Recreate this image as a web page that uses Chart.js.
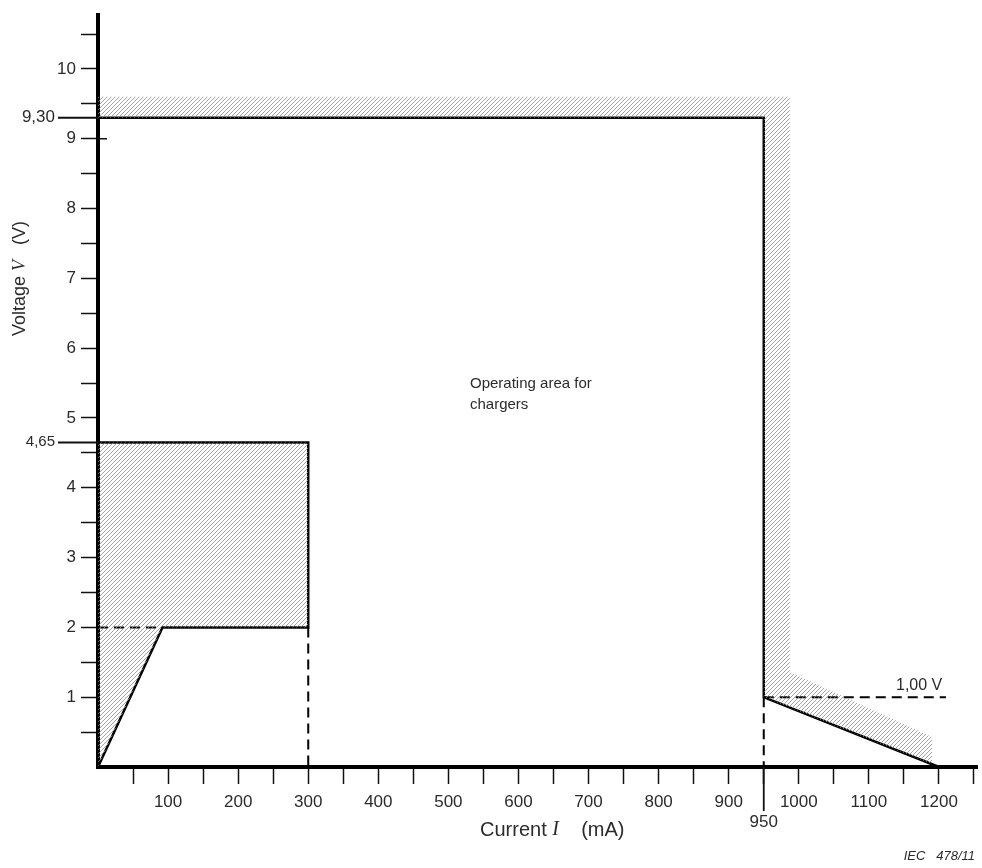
<!DOCTYPE html>
<html>
<head>
<meta charset="utf-8">
<script src="https://cdn.jsdelivr.net/npm/chart.js@4/dist/chart.umd.min.js"></script>
<style>
  html, body { margin: 0; padding: 0; background: #fff; }
  canvas { display: block; }
</style>
</head>
<body>
<canvas id="c" width="982" height="868"></canvas>
<script>
// ---- Data (current in mA, voltage in V) ----
const lowHatchI  = [0, 0, 300, 300, 92, 0];
const lowHatchV  = [0, 4.65, 4.65, 2, 2, 0];
const highHatchI = [0, 0, 987, 987, 1190, 1190, 950, 950, 0];
const highHatchV = [9.3, 9.6, 9.6, 1.36, 0.43, 0.04, 1, 9.3, 9.3];
const lowLimitI  = [0, 92, 300, 300, 0];
const lowLimitV  = [0, 2, 2, 4.65, 4.65];
const highLimitI = [0, 950, 950, 1200];
const highLimitV = [9.3, 9.3, 1, 0];
const dashKneeI  = [0, 92];      const dashKneeV  = [2, 2];
const dash300I   = [300, 300];   const dash300V   = [2, 0];
const dash950I   = [950, 950];   const dash950V   = [1, 0];
const dash1VI    = [950, 1210];  const dash1VV    = [1, 1];
const markedVoltages = [9.30, 4.65];
const markedVoltageLabels = ['9,30', '4,65'];
const markedCurrent = 950;
const markedCurrentLabel = '950';
const xTickStep = 50, yTickStep = 0.5;
const xMax = 1255, yMax = 10.77;

function pts(xs, ys) { return xs.map((x, i) => ({ x: x, y: ys[i] })); }

// hatch pattern
const pc = document.createElement('canvas');
pc.width = 4; pc.height = 4;
const pctx = pc.getContext('2d');
pctx.strokeStyle = '#8c8c8c';
pctx.lineWidth = 0.8;
pctx.beginPath();
pctx.moveTo(-1, 5); pctx.lineTo(5, -1);
pctx.moveTo(-1, 1); pctx.lineTo(1, -1);
pctx.moveTo(3, 5); pctx.lineTo(5, 3);
pctx.stroke();
const ctx = document.getElementById('c').getContext('2d');
const hatch = ctx.createPattern(pc, 'repeat');

const TXT = '#2b2b2b';
const SANS = '"Liberation Sans", Arial, sans-serif';

function lineDs(xs, ys, dashed) {
  return {
    data: pts(xs, ys), showLine: true, fill: false,
    borderColor: '#000', borderWidth: dashed ? 2 : 2.5,
    borderDash: dashed ? [10, 6] : [],
    pointRadius: 0, tension: 0, clip: false
  };
}
function hatchDs(xs, ys) {
  return {
    data: pts(xs, ys), showLine: true, fill: 'shape',
    backgroundColor: hatch, borderWidth: 0, borderColor: 'rgba(0,0,0,0)',
    pointRadius: 0, tension: 0
  };
}

const extras = {
  id: 'extras',
  beforeDraw(chart) {
    const c = chart.ctx;
    c.save(); c.fillStyle = '#fff'; c.fillRect(0, 0, chart.width, chart.height); c.restore();
  },
  afterDraw(chart) {
    const c = chart.ctx, xs = chart.scales.x, ys = chart.scales.y, ca = chart.chartArea;
    c.save();
    c.strokeStyle = '#111'; c.fillStyle = TXT;
    // marked voltages: lines extending left + labels
    markedVoltages.forEach((v, i) => {
      const py = ys.getPixelForValue(v);
      c.lineWidth = 2;
      c.beginPath(); c.moveTo(58, py); c.lineTo(ca.left, py); c.stroke();
      c.font = (i === 0 ? '17px ' : '15px ') + SANS;
      c.textAlign = 'right'; c.textBaseline = 'middle';
      c.fillText(markedVoltageLabels[i], 55, py - 1);
    });
    // small tick extension inside at 9 V
    const p9 = ys.getPixelForValue(9);
    c.lineWidth = 1.5;
    c.beginPath(); c.moveTo(ca.left, p9); c.lineTo(ca.left + 9, p9); c.stroke();
    // marked current: longer tick + label
    const px = xs.getPixelForValue(markedCurrent);
    c.lineWidth = 1.8;
    c.beginPath(); c.moveTo(px, ca.bottom); c.lineTo(px, ca.bottom + 44); c.stroke();
    c.font = '17px ' + SANS; c.textAlign = 'center'; c.textBaseline = 'middle';
    c.fillText(markedCurrentLabel, px, ca.bottom + 55);
    // 1,00 V label
    c.font = '16px ' + SANS; c.textAlign = 'left'; c.textBaseline = 'middle';
    c.fillText('1,00 V', 896, ys.getPixelForValue(1) - 12);
    // operating area text
    c.font = '15px ' + SANS;
    c.fillText('Operating area for', 470, 384);
    c.fillText('chargers', 470, 405);
    // x title
    const parts = [['Current ', '20px ' + SANS], ['I', 'italic 20px "Liberation Serif", serif'], ['    (mA)', '20px ' + SANS]];
    let tx = 480; c.textBaseline = 'middle'; c.textAlign = 'left';
    parts.forEach(p => { c.font = p[1]; c.fillText(p[0], tx, 830); tx += c.measureText(p[0]).width; });
    // y title
    c.save();
    c.translate(20, 336); c.rotate(-Math.PI / 2);
    const vparts = [['Voltage ', '18px ' + SANS], ['V', 'italic 18px "Liberation Serif", serif'], ['   (V)', '18px ' + SANS]];
    tx = 0;
    vparts.forEach(p => { c.font = p[1]; c.fillText(p[0], tx, 0); tx += c.measureText(p[0]).width; });
    c.restore();
    // IEC ref
    c.font = 'italic 13px ' + SANS; c.textAlign = 'right';
    c.fillText('IEC   478/11', 975, 856);
    c.restore();
  }
};

new Chart(ctx, {
  type: 'scatter',
  data: {
    datasets: [
      hatchDs(lowHatchI, lowHatchV),
      hatchDs(highHatchI, highHatchV),
      lineDs(lowLimitI, lowLimitV, false),
      lineDs(highLimitI, highLimitV, false),
      lineDs(dashKneeI, dashKneeV, true),
      lineDs(dash300I, dash300V, true),
      lineDs(dash950I, dash950V, true),
      lineDs(dash1VI, dash1VV, true)
    ]
  },
  options: {
    responsive: false, devicePixelRatio: 1, animation: false,
    layout: { padding: { top: 10, right: 2, left: 0, bottom: 0 } },
    plugins: { legend: { display: false }, tooltip: { enabled: false } },
    scales: {
      x: {
        type: 'linear', min: 0, max: xMax,
        afterFit(s) { s.height = 101; },
        border: { display: true, color: '#000', width: 4 },
        grid: {
          drawOnChartArea: false, drawTicks: true, tickLength: 17, tickWidth: 1.5,
          tickColor: (ctx) => (ctx.tick && ctx.tick.value === 0) ? 'rgba(0,0,0,0)' : '#111'
        },
        ticks: {
          stepSize: xTickStep, autoSkip: false, maxRotation: 0, includeBounds: false,
          color: TXT, font: { family: SANS, size: 17 }, padding: 8,
          callback: (v) => (v > 0 && v % 100 === 0) ? String(v) : ''
        }
      },
      y: {
        type: 'linear', min: 0, max: yMax,
        afterFit(s) { s.width = 98; },
        border: { display: true, color: '#000', width: 4 },
        grid: {
          drawOnChartArea: false, drawTicks: true, tickLength: 17, tickWidth: 1.5,
          tickColor: (ctx) => (ctx.tick && ctx.tick.value === 0) ? 'rgba(0,0,0,0)' : '#111'
        },
        ticks: {
          stepSize: yTickStep, autoSkip: false, includeBounds: false,
          color: TXT, font: { family: SANS, size: 17 }, padding: 5,
          callback: (v) => (v > 0 && Number.isInteger(v)) ? String(v) : ''
        }
      }
    }
  },
  plugins: [extras]
});
</script>
</body>
</html>
